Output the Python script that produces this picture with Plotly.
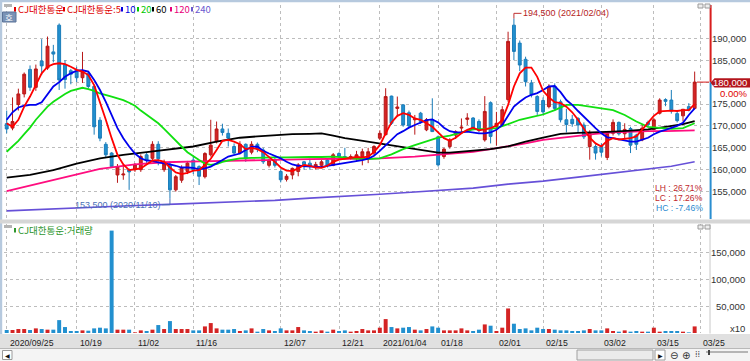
import plotly.graph_objects as go

W, H = 750, 361

# ---------------- data ----------------
DATES = (
    "2020-09-25 2020-09-28 2020-09-29 "
    "2020-10-05 2020-10-06 2020-10-07 2020-10-08 2020-10-12 2020-10-13 2020-10-14 2020-10-15 2020-10-16 "
    "2020-10-19 2020-10-20 2020-10-21 2020-10-22 2020-10-23 2020-10-26 2020-10-27 2020-10-28 2020-10-29 2020-10-30 "
    "2020-11-02 2020-11-03 2020-11-04 2020-11-05 2020-11-06 2020-11-09 2020-11-10 2020-11-11 2020-11-12 2020-11-13 "
    "2020-11-16 2020-11-17 2020-11-18 2020-11-19 2020-11-20 2020-11-23 2020-11-24 2020-11-25 2020-11-26 2020-11-27 2020-11-30 "
    "2020-12-01 2020-12-02 2020-12-03 2020-12-04 2020-12-07 2020-12-08 2020-12-09 2020-12-10 2020-12-11 "
    "2020-12-14 2020-12-15 2020-12-16 2020-12-17 2020-12-18 2020-12-21 2020-12-22 2020-12-23 2020-12-24 "
    "2020-12-28 2020-12-29 2020-12-30 "
    "2021-01-04 2021-01-05 2021-01-06 2021-01-07 2021-01-08 2021-01-11 2021-01-12 2021-01-13 2021-01-14 2021-01-15 "
    "2021-01-18 2021-01-19 2021-01-20 2021-01-21 2021-01-22 2021-01-25 2021-01-26 2021-01-27 2021-01-28 2021-01-29 "
    "2021-02-01 2021-02-02 2021-02-03 2021-02-04 2021-02-05 2021-02-08 2021-02-09 2021-02-10 "
    "2021-02-15 2021-02-16 2021-02-17 2021-02-18 2021-02-19 2021-02-22 2021-02-23 2021-02-24 2021-02-25 2021-02-26 "
    "2021-03-02 2021-03-03 2021-03-04 2021-03-05 2021-03-08 2021-03-09 2021-03-10 2021-03-11 2021-03-12 "
    "2021-03-15 2021-03-16 2021-03-17 2021-03-18 2021-03-19 2021-03-22 2021-03-23 2021-03-24"
).split()

OPEN = [170500, 169500, 174900, 177300, 182900, 178800, 184800, 183200, 186900, 193000,
        184000, 182600, 182400, 181000, 182000, 179000, 171300, 165800, 163800, 158800,
        158800, 160000, 160000, 160000, 163400, 162600, 165800, 160000, 161000, 155400,
        157600, 159600, 162200, 160700, 158400, 163400, 166400, 169300, 168300, 165300,
        163800, 165800, 164000, 165800, 164500, 161000, 162200, 159600, 157800, 158800,
        159600, 161800, 161500, 160500, 161000, 162200, 161000, 163700, 163000, 162600,
        162600, 163000, 162600, 163800, 167200, 168000, 176800, 174000, 174800, 173000,
        171400, 172900, 169100, 171400, 167500, 163000, 165300, 167900, 169500, 171500,
        171800, 171000, 166800, 175300, 169800, 170200, 176000, 193000, 188900, 185200,
        179800, 176700, 175800, 174400, 179000, 175500, 171400, 171500, 171700, 170200,
        165300, 165300, 165300, 162800, 168300, 170800, 168200, 169400, 167900, 166800,
        170800, 169200, 172900, 176000, 175900, 172800, 172300, 174400, 174000]
HIGH = [173500, 176500, 178500, 182200, 183800, 184000, 189800, 190400, 188500, 193400,
        185000, 183000, 183500, 186900, 182500, 179300, 172000, 166300, 164000, 161300,
        161000, 160300, 161500, 163500, 164000, 166500, 166500, 162300, 161900, 158800,
        161000, 162000, 163000, 161000, 164000, 171400, 171000, 170500, 169400, 166000,
        166500, 166000, 166500, 166200, 165000, 162500, 162800, 160000, 159000, 160500,
        161500, 162000, 162500, 161800, 162200, 162500, 163800, 164000, 165000, 163500,
        164300, 164800, 165000, 165600, 169000, 178600, 176900, 176700, 175000, 173500,
        172500, 173200, 171800, 176300, 167800, 165000, 167200, 169000, 171700, 172900,
        172000, 171500, 176800, 175600, 173200, 174500, 191500, 194500, 189500, 185800,
        180500, 177000, 176500, 179500, 179700, 176000, 173900, 172500, 172000, 170800,
        169000, 165800, 166000, 168800, 171500, 171000, 170600, 169800, 168200, 170300,
        171200, 171800, 176300, 176300, 178200, 173500, 173800, 175200, 182400]
LOW = [168300, 169000, 173500, 176500, 178000, 178000, 181600, 182800, 184500, 178200,
       178500, 179500, 180000, 179800, 178500, 168000, 166500, 162800, 160500, 157000,
       157700, 155400, 159500, 159500, 161500, 162000, 161000, 159500, 153500, 155000,
       157000, 159000, 159000, 156500, 158000, 163000, 166000, 167800, 165300, 163500,
       163500, 161800, 163500, 164000, 161300, 160500, 160500, 157100, 157300, 157800,
       158500, 160000, 160000, 160000, 160500, 160500, 160800, 162500, 162300, 162300,
       162000, 161000, 161500, 163300, 166800, 167800, 170200, 172100, 169800, 169500,
       168000, 170500, 168800, 168600, 160700, 162500, 164800, 167000, 168300, 170200,
       169000, 168500, 166400, 166000, 165500, 169800, 175500, 185000, 182500, 179000,
       176500, 172500, 172500, 174000, 173500, 170800, 168500, 169800, 168500, 167000,
       162300, 162300, 163000, 162200, 167800, 167800, 167000, 163800, 164500, 166500,
       169800, 169000, 172600, 174500, 172800, 170800, 171000, 173300, 173800]
CLOSE = [169300, 171000, 177300, 181800, 178800, 183000, 183700, 188200, 186400, 180500,
         180600, 181800, 181000, 182400, 179000, 169800, 167200, 163400, 160700, 160700,
         159000, 159500, 161200, 163000, 162200, 165800, 162500, 161300, 155400, 158400,
         160500, 161500, 160000, 158500, 163700, 165600, 169300, 168500, 167200, 163800,
         165800, 162500, 165800, 164700, 161800, 162200, 161000, 157700, 158500, 160300,
         161100, 160700, 160800, 161200, 161800, 161000, 163400, 163000, 162600, 163000,
         163400, 164100, 164100, 165300, 168300, 176700, 170600, 174300, 170200, 170000,
         171700, 171000, 171400, 168700, 161100, 164700, 166800, 168700, 169700, 171800,
         169500, 169000, 173300, 167600, 170600, 173700, 189300, 187000, 183900, 180100,
         177100, 173300, 173200, 179000, 174000, 171400, 170300, 170500, 170200, 167500,
         168300, 163800, 164000, 168300, 170800, 168200, 169200, 165600, 165800, 169500,
         170300, 171400, 175900, 175600, 173400, 171200, 173800, 173600, 180000]

VOLUME = [5600, 5600, 7400, 7400, 5600, 8600, 7400, 6200, 6200, 24000,
          11100, 3700, 3700, 4900, 4300, 8600, 9900, 8600, 190700, 6200,
          6200, 6200, 1200, 4900, 3700, 6200, 14800, 7400, 22200, 7400,
          7400, 7400, 4900, 4900, 12300, 18500, 8600, 6200, 6200, 7400,
          3700, 4900, 8600, 2500, 7400, 4900, 3700, 8600, 4900, 4900,
          11100, 4900, 3700, 2500, 4900, 2500, 6200, 3700, 4900, 2500,
          3700, 7400, 4900, 4900, 9900, 25900, 11100, 8600, 9900, 11100,
          6200, 4900, 7400, 12300, 9900, 4900, 4900, 4900, 8600, 4900,
          3700, 6200, 16000, 13600, 3700, 9900, 45700, 17300, 7400, 8600,
          4900, 9900, 7400, 7400, 6200, 4900, 4900, 3700, 3700, 4900,
          7400, 4900, 4900, 8600, 3700, 2500, 4900, 2500, 3700, 2500,
          2500, 9900, 2500, 3700, 3700, 3700, 2500, 1200, 12300]

# moving averages (thousand won)
MA5 = [170.6, 169.8, 171.4, 174.4, 176.7, 179.3, 182.0, 183.5, 184.1, 184.3,
       184.1, 183.5, 182.8, 182.4, 181.6, 179.3, 175.5, 171.4, 167.2, 163.4,
       161.2, 159.9, 160.1, 160.3, 161.2, 162.1, 162.2, 161.8, 160.5, 159.4,
       159.0, 159.3, 159.8, 159.9, 161.1, 162.5, 164.5, 166.6, 166.8, 166.4,
       165.8, 164.7, 165.0, 164.7, 164.0, 163.0, 161.8, 160.5, 159.8, 159.7,
       160.3, 161.1, 160.9, 160.5, 160.4, 160.9, 161.8, 162.3, 162.5, 162.6,
       162.9, 162.8, 163.0, 164.0, 165.6, 168.3, 170.8, 172.3, 172.9, 172.5,
       171.7, 171.4, 170.6, 169.8, 168.5, 167.2, 166.6, 167.3, 168.3, 169.1,
       169.6, 169.0, 169.2, 169.5, 170.1, 171.4, 174.8, 179.0, 182.0, 183.3,
       183.3, 181.2, 178.0, 176.5, 175.4, 175.2, 174.4, 173.1, 171.4, 169.3,
       167.3, 166.0, 165.3, 166.6, 167.2, 166.9, 167.0, 167.2, 167.6, 169.1,
       170.8, 172.3, 173.3, 173.4, 173.5, 173.4, 173.6, 173.6, 175.0]
MA10 = [171.4, 173.1, 174.2, 174.6, 174.8, 174.8, 175.4, 177.2, 179.0, 180.0,
        181.2, 182.0, 182.6, 182.7, 182.4, 180.5, 178.2, 175.5, 172.5, 169.5,
        167.2, 165.3, 163.7, 162.6, 162.1, 162.0, 161.7, 161.5, 161.2, 160.9,
        160.5, 160.5, 160.4, 160.1, 160.3, 160.7, 161.4, 162.2, 163.0, 163.4,
        163.7, 164.5, 165.2, 165.3, 164.3, 163.7, 163.2, 162.6, 161.8, 161.2,
        160.9, 160.8, 160.8, 160.6, 160.6, 160.9, 161.1, 161.4, 161.6, 161.8,
        162.0, 162.2, 162.5, 163.2, 164.3, 165.6, 167.0, 168.1, 168.8, 169.6,
        170.2, 170.8, 171.3, 171.5, 170.8, 169.6, 168.8, 168.5, 168.5, 168.7,
        168.5, 168.3, 168.3, 168.5, 169.1, 170.2, 172.3, 174.4, 175.5, 176.5,
        177.1, 177.5, 178.2, 179.0, 179.1, 177.7, 175.9, 174.8, 173.4, 172.1,
        170.6, 169.5, 168.3, 167.4, 167.2, 166.9, 166.6, 166.4, 166.4, 166.8,
        167.3, 168.1, 168.7, 169.1, 169.5, 170.0, 170.7, 172.5, 174.0]
MA20_X = list(range(0, 40)) + list(range(40, 81, 2)) + list(range(82, 119, 2))
MA20 = [164.1, 165.3, 166.6, 168.1, 169.6, 171.4, 172.9, 174.4, 175.5, 176.5,
        177.3, 178.0, 178.4, 178.7, 178.4, 178.0, 177.4, 177.1, 176.7, 176.3,
        175.9, 175.3, 174.6, 173.5, 172.5, 171.5, 170.6, 169.3, 167.9, 166.6,
        165.3, 164.0, 163.0, 162.2, 161.4, 161.1, 161.3, 161.8, 162.1, 162.4,
        162.6, 162.7, 162.8, 162.8, 162.8, 162.9, 162.9, 162.9, 163.0, 162.8,
        162.5, 162.4, 162.6, 163.5, 164.7, 165.6, 166.4, 167.3, 167.8, 168.5, 169.2,
        169.3, 169.5, 170.4, 171.4, 172.0, 172.6, 173.6, 174.8, 174.8, 174.4,
        174.0, 173.6, 172.5, 171.0, 169.8, 169.5, 169.3, 169.5, 170.6]
MA60_X = [0, 4, 8, 12, 16, 20, 24, 28, 32, 36, 40, 43, 46, 49, 52, 54, 56, 58, 60, 62,
          64, 66, 68, 70, 72, 74, 76, 78, 80, 83, 86, 89, 92, 95, 98, 101, 104, 107, 110,
          113, 116, 118]
MA60 = [158.2, 158.8, 159.9, 161.4, 162.6, 163.4, 164.0, 164.7, 165.3, 166.4, 167.3, 167.6,
        167.9, 168.1, 168.2, 168.3, 167.8, 167.2, 166.8, 166.4, 166.0, 165.6, 165.1, 164.7,
        164.4, 163.9, 163.9, 164.1, 164.4, 164.7, 165.3, 166.4, 167.3, 168.2, 168.4, 168.5,
        168.7, 168.9, 169.2, 169.8, 170.4, 171.1]
MA120_X = [0, 5, 10, 16, 22, 27, 33, 39, 46, 52, 58, 64, 70, 76, 80, 83, 86, 89, 92, 95,
           98, 101, 104, 107, 110, 113, 116, 118]
MA120 = [155.1, 156.7, 158.4, 160.2, 161.2, 161.7, 161.9, 162.1, 162.3, 162.4, 162.5, 162.6,
         163.0, 163.7, 164.1, 164.7, 165.3, 166.0, 166.8, 167.3, 167.8, 168.2, 168.5, 168.7,
         168.8, 168.8, 168.9, 169.0]
MA240_X = [0, 10, 20, 30, 39, 46, 52, 58, 64, 70, 76, 80, 86, 92, 98, 104, 110, 114, 118]
MA240 = [150.6, 151.2, 151.7, 152.2, 152.6, 153.0, 153.5, 153.9, 154.4, 154.9, 155.4, 155.8,
         156.7, 157.4, 158.3, 159.2, 160.1, 160.8, 161.8]

TICK_DATES = ["2020-09-25", "2020-10-19", "2020-11-02", "2020-11-16", "2020-12-07",
              "2020-12-21", "2021-01-04", "2021-01-18", "2021-02-01", "2021-02-15",
              "2021-03-02", "2021-03-15"]
TICK_TEXT = ["2020/09/25", "10/19", "11/02", "11/16", "12/07", "12/21", "2021/01/04",
             "01/18", "02/01", "02/15", "03/02", "03/15", "03/25"]
PRICE_TICKS = [155000, 160000, 165000, 170000, 175000, 180000, 185000, 190000]
VOL_TICKS = [50000, 100000, 150000]

# ---------------- derived ----------------
X = list(range(len(DATES)))
TICK_IDX = [DATES.index(d) for d in TICK_DATES] + [len(DATES)]   # next trading day 03/25
hi_idx = HIGH.index(max(HIGH))
lo_idx = LOW.index(min(LOW))
last_close = CLOSE[-1]

UP_FILL, UP_LINE = "#d42424", "#b81818"
DN_FILL, DN_LINE = "#2290cf", "#1b7dba"
vol_colors = [UP_FILL if c >= o else DN_FILL for o, c in zip(OPEN, CLOSE)]

NUM = "Liberation Sans Narrow, Liberation Sans, Arial, sans-serif"
KR = "Noto Sans CJK KR, Noto Sans, sans-serif"


def px(x):
    return x / W


def py(y):
    return 1 - y / H


fig = go.Figure()

fig.add_trace(go.Candlestick(
    x=X, open=OPEN, high=HIGH, low=LOW, close=CLOSE,
    increasing=dict(line=dict(color=UP_LINE, width=1), fillcolor=UP_FILL),
    decreasing=dict(line=dict(color=DN_LINE, width=1), fillcolor=DN_FILL),
    whiskerwidth=0, hoverinfo="skip", showlegend=False, xaxis="x", yaxis="y"))

for xs, ys, col, wd in [
    (MA240_X, MA240, "#6650d8", 1.6),
    (MA120_X, MA120, "#ff0d7f", 1.8),
    (MA60_X, MA60, "#000000", 1.8),
    (MA20_X, MA20, "#10e010", 1.8),
    (X, MA10, "#0000ee", 1.8),
    (X, MA5, "#ff0000", 1.8),
]:
    fig.add_trace(go.Scatter(x=xs, y=[v * 1000 for v in ys], mode="lines",
                             line=dict(color=col, width=wd), hoverinfo="skip",
                             showlegend=False, xaxis="x", yaxis="y"))

fig.add_trace(go.Bar(x=X, y=VOLUME, marker=dict(color=vol_colors, line=dict(width=0)),
                     width=0.68, hoverinfo="skip", showlegend=False,
                     xaxis="x2", yaxis="y2"))

XR = [-0.463, 120.46]
grid = dict(showgrid=True, gridcolor="#bdbdbd", griddash="dot", gridwidth=1,
            zeroline=False, showline=False, ticks="", showticklabels=False,
            fixedrange=True)

fig.update_layout(
    width=W, height=H, margin=dict(l=0, r=0, t=0, b=0),
    paper_bgcolor="white", plot_bgcolor="white", showlegend=False,
    boxgap=0.3, bargap=0.3,
    xaxis=dict(domain=[px(4), px(709)], range=XR, tickvals=TICK_IDX,
               anchor="y", rangeslider=dict(visible=False), **grid),
    yaxis=dict(domain=[py(219), py(5)], range=[148745, 197602],
               tickvals=PRICE_TICKS, anchor="x", **grid),
    xaxis2=dict(domain=[px(4), px(709)], range=XR, tickvals=TICK_IDX,
                anchor="y2", **grid),
    yaxis2=dict(domain=[py(333), py(224)], range=[0, 203000],
                tickvals=VOL_TICKS, anchor="x2", **grid),
)

shapes = []
ann = []


def rect(x0, y0, x1, y1, fill, line=None, lw=0):
    shapes.append(dict(type="rect", xref="paper", yref="paper",
                       x0=px(x0), x1=px(x1), y0=py(y1), y1=py(y0),
                       fillcolor=fill, line=dict(color=line or fill, width=lw),
                       layer="above"))


def text(x, y, s, color="#222", size=9, family=NUM, xanchor="left", xref="paper",
         yref="paper", **kw):
    ann.append(dict(x=x, y=y, xref=xref, yref=yref, text=s, showarrow=False,
                    xanchor=xanchor, yanchor="middle", borderpad=0,
                    font=dict(color=color, size=size, family=family), **kw))


# frame chrome
rect(0, 0, 750, 2.2, "#b6c9de")
rect(0, 0, 2.2, 348, "#b6c9de")
rect(0, 219.5, 750, 223.5, "#d6d6d6")
rect(0, 334, 750, 348.5, "#e0e0e0")
rect(0, 348.5, 750, 361, "#f4f4f4")
shapes.append(dict(type="line", xref="paper", yref="paper", x0=0, x1=1,
                   y0=py(348.5), y1=py(348.5), line=dict(color="#b8b8b8", width=1)))
shapes.append(dict(type="line", xref="paper", yref="paper", x0=px(710), x1=px(710),
                   y0=py(333.5), y1=py(224), line=dict(color="#c8c8c8", width=1)))

# price position bar on the right edge of the price panel
shapes.append(dict(type="line", xref="paper", yref="y", x0=px(710.6), x1=px(710.6),
                   y0=last_close, y1=197602, line=dict(color="#d81e1e", width=2)))
shapes.append(dict(type="line", xref="paper", yref="y", x0=px(710.6), x1=px(710.6),
                   y0=148745, y1=last_close, line=dict(color="#2a8ed0", width=2)))
# last price marker dash
shapes.append(dict(type="line", xref="x", yref="y", x0=len(DATES) - 0.6, x1=XR[1],
                   y0=last_close, y1=last_close, line=dict(color="#d81e1e", width=1)))

# small gray icons
rect(4, 4, 12, 7, "#b4b4b4")
rect(4, 225, 12, 228, "#b4b4b4")
for yy in (4, 225):
    rect(698, yy, 703, yy + 4, "#eeeeee", "#9a9a9a", 1)
    rect(705, yy, 710, yy + 4, "#eeeeee", "#9a9a9a", 1)

# "호" button
rect(2.5, 12, 16, 22, "#7a93b6", "#5b7398", 1)
text(px(9.3), py(17), "호", color="white", size=8.5, family=KR, xanchor="center")

# legend of price panel
legend = [(14, "CJ대한통운", "#e00000"), (63, "CJ대한통운:5", "#e00000"),
          (121, "10", "#0000e0"), (137, "20", "#00c800"), (152, "60", "#000000"),
          (170, "120", "#e8007a"), (191, "240", "#6a58d0")]
for x0, s, col in legend:
    rect(x0, 7, x0 + 2, 11.5, col)
    text(px(x0 + 3), py(9.4), s, color=col, size=9.5, family=KR)

# legend of volume panel
rect(14, 228, 16, 232.5, "#2e962e")
text(px(17), py(230.3), "CJ대한통운:거래량", color="#2e962e", size=9.5, family=KR)

# price axis labels
for v in PRICE_TICKS:
    if v == last_close:
        continue
    text(px(746.5), v, f"{v:,}", color="#333", size=9.5, xanchor="right", yref="y")
# highlighted last price
shapes.append(dict(type="path", xref="paper", yref="paper",
                   path=f"M {px(710.5)} {py(82.8)} L {px(714.5)} {py(78.3)} L {px(750)} {py(78.3)} "
                        f"L {px(750)} {py(87.4)} L {px(714.5)} {py(87.4)} Z",
                   fillcolor="#b3141c", line=dict(color="#b3141c", width=0), layer="above"))
text(px(747.5), last_close, f"{last_close:,}", color="white", size=9.5,
     xanchor="right", yref="y")
text(px(747.5), py(93.3), "0.00%", color="#e00000", size=9.5, xanchor="right")

# volume axis labels
for v in VOL_TICKS:
    text(px(746), v, f"{v:,}", color="#333", size=9.5, xanchor="right", yref="y2")
text(px(746), py(328.3), "x10", color="#333", size=9.5, xanchor="right")

# date labels
for i, s in zip(TICK_IDX, TICK_TEXT):
    text(i, py(342.6), s, color="#222", size=8.7, xref="x2", xshift=2)

# high / low markers
hi_y = max(HIGH) + 1200
shapes.append(dict(type="line", xref="x", yref="y", x0=hi_idx, x1=hi_idx,
                   y0=max(HIGH), y1=hi_y, line=dict(color="#c03030", width=1)))
shapes.append(dict(type="line", xref="x", yref="y", x0=hi_idx, x1=hi_idx + 1.3,
                   y0=hi_y, y1=hi_y, line=dict(color="#c03030", width=1)))
text(hi_idx + 1.35, hi_y, f"{max(HIGH):,} ({DATES[hi_idx].replace('-', '/')})",
     color="#b52424", size=9, xref="x", yref="y")

lo_y = min(LOW) - 1500
shapes.append(dict(type="line", xref="x", yref="y", x0=lo_idx, x1=lo_idx,
                   y0=min(LOW), y1=lo_y, line=dict(color="#4a6fb5", width=1)))
shapes.append(dict(type="line", xref="x", yref="y", x0=lo_idx - 1.4, x1=lo_idx,
                   y0=lo_y, y1=lo_y, line=dict(color="#4a6fb5", width=1)))
text(lo_idx - 1.45, lo_y, f"{min(LOW):,} ({DATES[lo_idx].replace('-', '/')})",
     color="#4a6fb5", size=9, xref="x", yref="y", xanchor="right")

# LH / LC / HC statistics
lh = (max(HIGH) - min(LOW)) / min(LOW) * 100
lc = (last_close - min(LOW)) / min(LOW) * 100
hc = (last_close - max(HIGH)) / max(HIGH) * 100
text(px(704), py(187.5), f"LH : {lh:.2f}%", color="#c0282d", size=8.6, xanchor="right")
text(px(704), py(197.8), f"LC : {lc:.2f}%", color="#c0282d", size=8.6, xanchor="right")
text(px(704), py(208.1), f"HC : {hc:.2f}%", color="#2a8ad0", size=8.6, xanchor="right")

# bottom scroll controls
rect(2.5, 350.5, 12, 359.5, "white", "#9a9a9a", 1)
text(px(7.3), py(355), "◀", color="#111", size=6, family="DejaVu Sans", xanchor="center")
rect(577, 350, 653, 360, "#ebebeb", "#a0a0a0", 1)
rect(655, 350, 665, 360, "white", "#9a9a9a", 1)
text(px(660), py(355), "▶", color="#111", size=6, family="DejaVu Sans", xanchor="center")
text(px(673.5), py(355), "⊖", color="#333", size=10, family="DejaVu Sans", xanchor="center")
text(px(685.5), py(355), "⊕", color="#333", size=10, family="DejaVu Sans", xanchor="center")
text(px(697), py(354.5), "⁞⁞", color="#444", size=8, family="DejaVu Sans", xanchor="center")
shapes.append(dict(type="line", xref="paper", yref="paper", x0=px(706), x1=px(748),
                   y0=py(352), y1=py(352), line=dict(color="#777", width=1)))
shapes.append(dict(type="line", xref="paper", yref="paper", x0=px(709), x1=px(709),
                   y0=py(350), y1=py(355), line=dict(color="#444", width=2)))

fig.update_layout(shapes=shapes, annotations=ann)

fig.write_html("out.html", config={"displayModeBar": False, "staticPlot": True},
               post_script="document.body.style.margin='0';document.body.style.overflow='hidden';")
